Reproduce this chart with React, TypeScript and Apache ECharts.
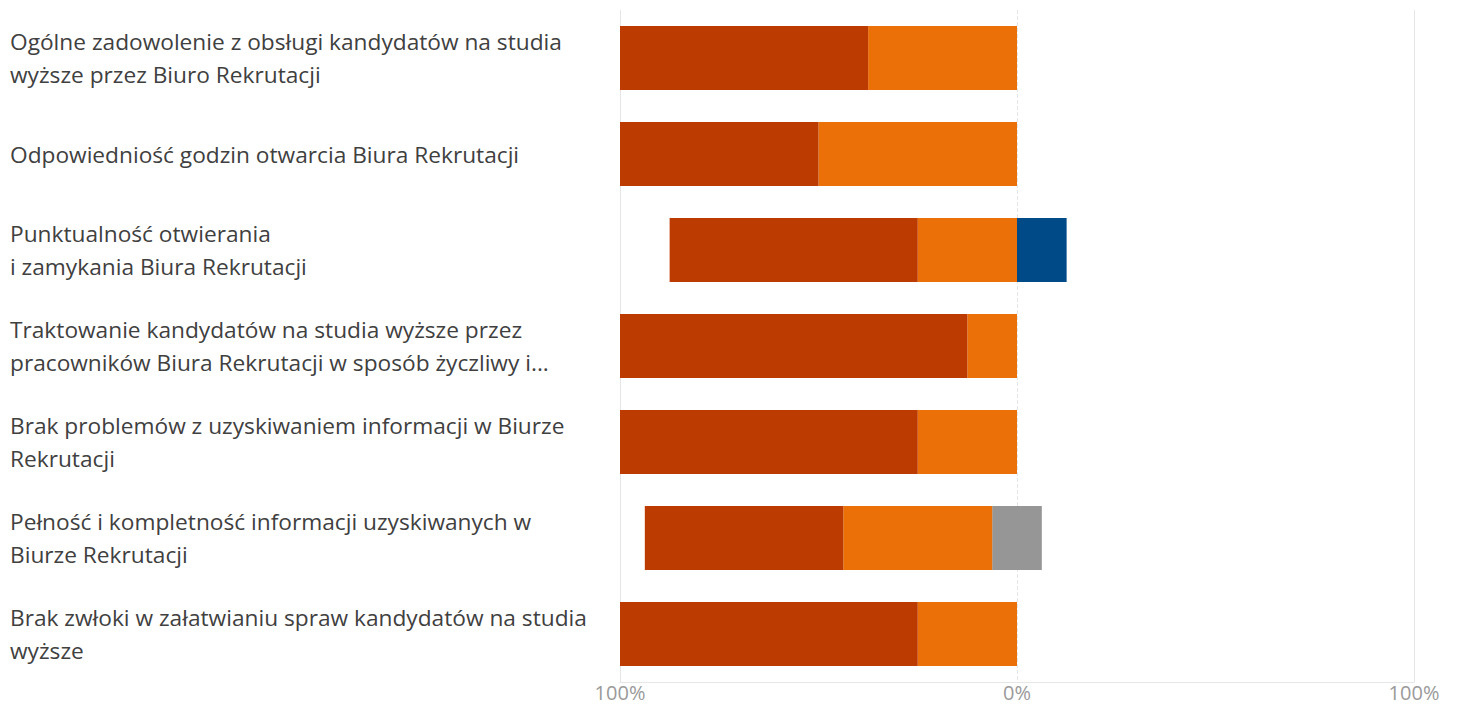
import React, { useEffect, useRef } from "react";
import * as echarts from "echarts";

const categories = [
  "Ogólne zadowolenie z obsługi kandydatów na studia\nwyższe przez Biuro Rekrutacji",
  "Odpowiedniość godzin otwarcia Biura Rekrutacji",
  "Punktualność otwierania\ni zamykania Biura Rekrutacji",
  "Traktowanie kandydatów na studia wyższe przez\npracowników Biura Rekrutacji w sposób życzliwy i...",
  "Brak problemów z uzyskiwaniem informacji w Biurze\nRekrutacji",
  "Pełność i kompletność informacji uzyskiwanych w\nBiurze Rekrutacji",
  "Brak zwłoki w załatwianiu spraw kandydatów na studia\nwyższe",
];

// percentages per answer group
const strongNegative = [62.5, 50, 62.5, 87.5, 75, 50, 75];
const weakNegative = [37.5, 50, 25, 12.5, 25, 37.5, 25];
const neutral = [0, 0, 0, 0, 0, 12.5, 0];
const positive = [0, 0, 12.5, 0, 0, 0, 0];

const xTicks = [-100, 0, 100];

const COLORS = {
  strongNeg: "#BC3B00",
  weakNeg: "#EC7008",
  neutral: "#969696",
  positive: "#004A87",
};

export default function App() {
  const ref = useRef<HTMLDivElement>(null);
  useEffect(() => {
    if (!ref.current) return;
    const chart = echarts.init(ref.current, null, { renderer: "svg" });
    const barBase = {
      type: "bar" as const,
      stack: "total",
      barWidth: 64,
      z: 3,
      silent: true,
    };
    chart.setOption({
      animation: false,
      grid: { left: 620, right: 45, top: 10, bottom: 22, containLabel: false },
      xAxis: {
        type: "value",
        min: -100,
        max: 100,
        interval: 100,
        axisLine: { show: true, lineStyle: { color: "#e6e6e6", width: 1 } },
        axisTick: { show: false },
        splitLine: { show: false },
        axisLabel: {
          margin: 0,
          color: "#9a9a9a",
          fontSize: 20,
          lineHeight: 20,
          fontFamily: "Open Sans",
          formatter: (v: number) => Math.abs(v) + "%",
        },
      },
      yAxis: {
        type: "category",
        data: categories,
        inverse: true,
        axisLine: { show: false },
        axisTick: { show: false },
        splitLine: { show: false },
        axisLabel: {
          align: "left",
          margin: 610,
          color: "#404040",
          fontSize: 22.7,
          lineHeight: 33,
          fontFamily: "Open Sans",
        },
      },
      series: [
        {
          ...barBase,
          name: "Neutral (left)",
          data: neutral.map((v) => -v / 2),
          itemStyle: { color: COLORS.neutral },
          markLine: {
            silent: true,
            symbol: "none",
            z: 1,
            label: { show: false },
            data: xTicks.map((t) => ({
              xAxis: t,
              lineStyle: {
                color: "#e6e6e6",
                width: 1,
                type: t === 0 ? "dashed" : "solid",
              },
            })),
          },
        },
        {
          ...barBase,
          name: "Weak negative",
          data: weakNegative.map((v) => -v),
          itemStyle: { color: COLORS.weakNeg },
        },
        {
          ...barBase,
          name: "Strong negative",
          data: strongNegative.map((v) => -v),
          itemStyle: { color: COLORS.strongNeg },
        },
        {
          ...barBase,
          name: "Neutral (right)",
          data: neutral.map((v) => v / 2),
          itemStyle: { color: COLORS.neutral },
        },
        {
          ...barBase,
          name: "Positive",
          data: positive,
          itemStyle: { color: COLORS.positive },
        },
      ],
    });
    return () => chart.dispose();
  }, []);
  return (
    <div
      ref={ref}
      style={{ position: "absolute", left: 0, top: 0, width: 1459, height: 704, background: "#fff" }}
    />
  );
}
